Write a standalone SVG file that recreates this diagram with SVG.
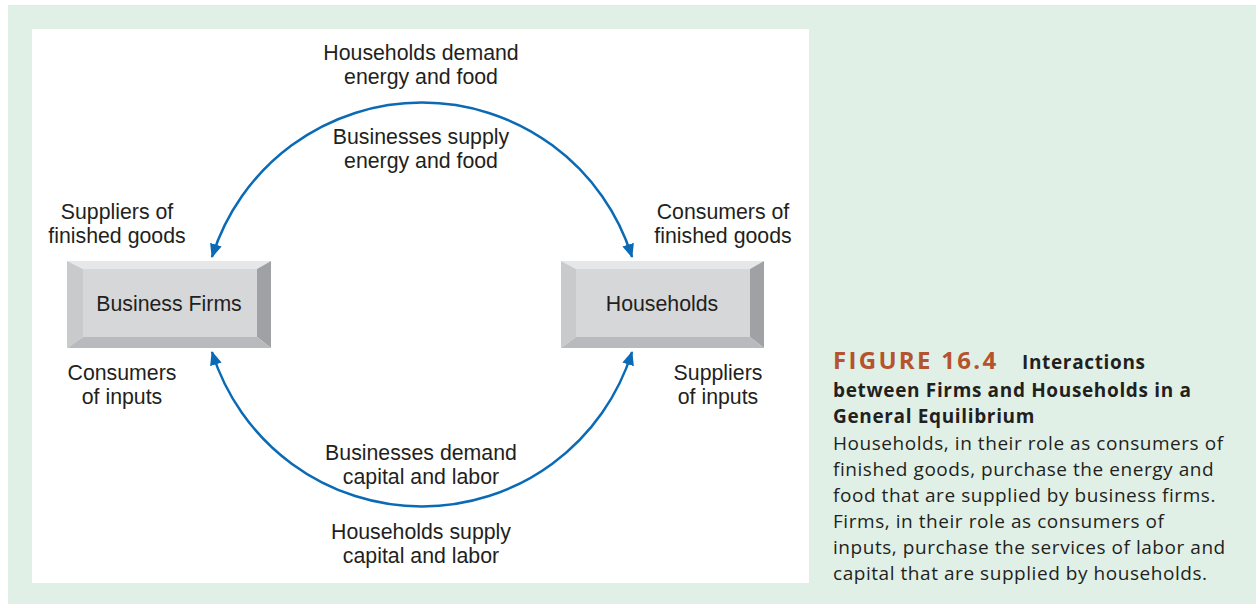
<svg xmlns="http://www.w3.org/2000/svg" width="1256" height="604" viewBox="0 0 1256 604">
<defs>
<style>
.lbl{font-family:"Liberation Sans",Arial,sans-serif;font-size:21.3px;fill:#231f20;text-anchor:middle}
.cap{font-family:"Open Sans","Noto Sans",sans-serif;fill:#231f20}
.capb{font-weight:bold;font-size:19px;letter-spacing:0.65px}
.body{font-size:19px;letter-spacing:0.55px}
.fig{font-weight:bold;font-size:24px;fill:#b5532f;letter-spacing:2.3px}
.arc{fill:none;stroke:#0a6ab5;stroke-width:2.5}
</style>
<marker id="ah" viewBox="0 0 14 12" refX="13" refY="6" markerWidth="14" markerHeight="12" markerUnits="userSpaceOnUse" orient="auto-start-reverse">
<path d="M0,0 L14,6 L0,12 Z" fill="#0a6ab5"/>
</marker>
</defs>
<rect x="8" y="5" width="1248" height="599" fill="#e1f0e7"/>
<rect x="32" y="29" width="777" height="554" fill="#ffffff"/>

<g id="connectors">
<path class="arc" d="M212,257 A220,220 0 0 1 632,257" marker-start="url(#ah)" marker-end="url(#ah)"/>
<path class="arc" d="M212,352 A220,220 0 0 0 632,352" marker-start="url(#ah)" marker-end="url(#ah)"/>
</g>

<g id="business-firms">
<polygon points="67,261 271,261 257,269 83,269" fill="#e6e7e9"/>
<polygon points="67,261 83,269 83,337 67,348" fill="#c9cacc"/>
<polygon points="271,261 271,348 257,337 257,269" fill="#a0a1a4"/>
<polygon points="67,348 83,337 257,337 271,348" fill="#b9babd"/>
<rect x="83" y="269" width="174" height="68" fill="#d6d7d9"/>
<text class="lbl" x="169" y="311">Business Firms</text>
</g>

<g id="households">
<polygon points="561,261 764,261 750,269 576,269" fill="#e6e7e9"/>
<polygon points="561,261 576,269 576,337 561,348" fill="#c9cacc"/>
<polygon points="764,261 764,348 750,337 750,269" fill="#a0a1a4"/>
<polygon points="561,348 576,337 750,337 764,348" fill="#b9babd"/>
<rect x="576" y="269" width="174" height="68" fill="#d6d7d9"/>
<text class="lbl" x="662" y="311">Households</text>
</g>

<g id="labels">
<text class="lbl" x="421" y="60">Households demand</text>
<text class="lbl" x="421" y="84">energy and food</text>
<text class="lbl" x="421" y="144">Businesses supply</text>
<text class="lbl" x="421" y="168">energy and food</text>
<text class="lbl" x="117" y="219">Suppliers of</text>
<text class="lbl" x="117" y="243">finished goods</text>
<text class="lbl" x="723" y="219">Consumers of</text>
<text class="lbl" x="723" y="243">finished goods</text>
<text class="lbl" x="122" y="380">Consumers</text>
<text class="lbl" x="122" y="404">of inputs</text>
<text class="lbl" x="718" y="380">Suppliers</text>
<text class="lbl" x="718" y="404">of inputs</text>
<text class="lbl" x="421" y="460">Businesses demand</text>
<text class="lbl" x="421" y="484">capital and labor</text>
<text class="lbl" x="421" y="539">Households supply</text>
<text class="lbl" x="421" y="563">capital and labor</text>
</g>

<g id="caption" class="cap">
<text class="fig" x="833" y="369">FIGURE 16.4</text>
<text class="capb" x="1022" y="369">Interactions</text>
<text class="capb" x="833" y="397">between Firms and Households in a</text>
<text class="capb" x="833" y="423">General Equilibrium</text>
<text class="body" x="833" y="450">Households, in their role as consumers of</text>
<text class="body" x="833" y="476">finished goods, purchase the energy and</text>
<text class="body" x="833" y="502">food that are supplied by business firms.</text>
<text class="body" x="833" y="528">Firms, in their role as consumers of</text>
<text class="body" x="833" y="554">inputs, purchase the services of labor and</text>
<text class="body" x="833" y="580">capital that are supplied by households.</text>
</g>
</svg>
